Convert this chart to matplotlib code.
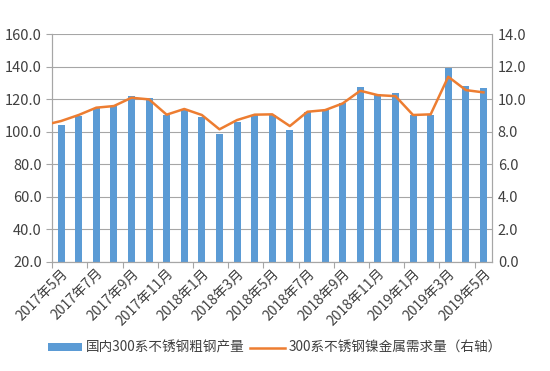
import matplotlib
matplotlib.use('Agg')
import matplotlib.pyplot as plt
import numpy as np

plt.rcParams['font.family'] = ['Noto Sans CJK SC', 'DejaVu Sans']

# months 2017-05 .. 2019-05
months = ['2017年5月', '2017年6月', '2017年7月', '2017年8月', '2017年9月', '2017年10月',
          '2017年11月', '2017年12月', '2018年1月', '2018年2月', '2018年3月', '2018年4月',
          '2018年5月', '2018年6月', '2018年7月', '2018年8月', '2018年9月', '2018年10月',
          '2018年11月', '2018年12月', '2019年1月', '2019年2月', '2019年3月', '2019年4月',
          '2019年5月']
# 国内300系不锈钢粗钢产量 (left axis)
output = [104.2, 109.7, 114.8, 115.8, 122.0, 120.5, 110.0, 113.4, 109.3, 98.6,
          106.2, 110.3, 110.3, 101.0, 112.3, 113.4, 117.9, 127.7, 123.2, 124.0,
          110.0, 110.0, 139.0, 128.0, 126.7]
# 300系不锈钢镍金属需求量 (right axis), first value is 2017年4月
nickel_prev = 8.4
nickel = [8.66, 9.03, 9.48, 9.58, 10.09, 9.99, 9.05, 9.40, 9.03, 8.15,
          8.72, 9.05, 9.07, 8.35, 9.23, 9.33, 9.74, 10.52, 10.25, 10.19,
          9.03, 9.07, 11.38, 10.56, 10.42]

bar_label = '国内300系不锈钢粗钢产量'
line_label = '300系不锈钢镍金属需求量（右轴）'

blue = '#5B9BD5'
orange = '#ED7D31'
grid_c = '#A6A6A6'
text_c = '#404040'

fig = plt.figure(figsize=(5.5, 3.71), dpi=100)
ax = fig.add_axes([0.095, 0.294, 0.8, 0.614])
ax2 = ax.twinx()

x = np.arange(len(months))
ax.bar(x, output, width=0.4, color=blue, label=bar_label, zorder=2)
ax.set_ylim(20, 160)
ax.set_yticks(np.arange(20, 161, 20))
ax.set_yticklabels(['%.1f' % v for v in np.arange(20, 161, 20)])
ax.set_xlim(-0.5, len(months) - 0.5)
ax.grid(axis='y', color=grid_c, linewidth=0.8, zorder=0)
ax.set_axisbelow(True)

xl = np.concatenate([[-1], x])
yl = [nickel_prev] + nickel
ax2.plot(xl, yl, color=orange, linewidth=1.8, label=line_label, zorder=3)
ax2.set_ylim(0, 14)
ax2.set_yticks(np.arange(0, 15, 2))
ax2.set_yticklabels(['%.1f' % v for v in np.arange(0, 15, 2)])
ax2.set_xlim(-0.5, len(months) - 0.5)

# category ticks every 2 months on boundaries, labels every 2 months
ax.set_xticks(np.arange(-0.5, len(months), 2))
ax.tick_params(axis='x', which='major', length=4, color=grid_c, labelbottom=False)
ax.set_xticks(x[::2], minor=True)
ax.set_xticklabels([months[i] for i in x[::2]], minor=True, rotation=45, ha='right',
                   rotation_mode='anchor', fontsize=10, color=text_c)
ax.tick_params(axis='x', which='minor', length=0, pad=3)

ax.tick_params(axis='y', length=4, color=grid_c, labelsize=10.5, labelcolor=text_c)
ax2.tick_params(axis='y', length=0, labelsize=10.5, labelcolor=text_c, pad=4)

for a in (ax, ax2):
    a.spines['top'].set_visible(False)
    for s in ('left', 'right', 'bottom'):
        a.spines[s].set_color(grid_c)
        a.spines[s].set_linewidth(0.8)

h1, l1 = ax.get_legend_handles_labels()
h2, l2 = ax2.get_legend_handles_labels()
fig.legend(h1 + h2, l1 + l2, loc='center', bbox_to_anchor=(0.5, 0.062), ncol=2,
           frameon=False, fontsize=9.8, handlelength=2.5, handleheight=0.5,
           columnspacing=0.4, handletextpad=0.3, labelcolor=text_c)

fig.savefig('out.png', dpi=100)
